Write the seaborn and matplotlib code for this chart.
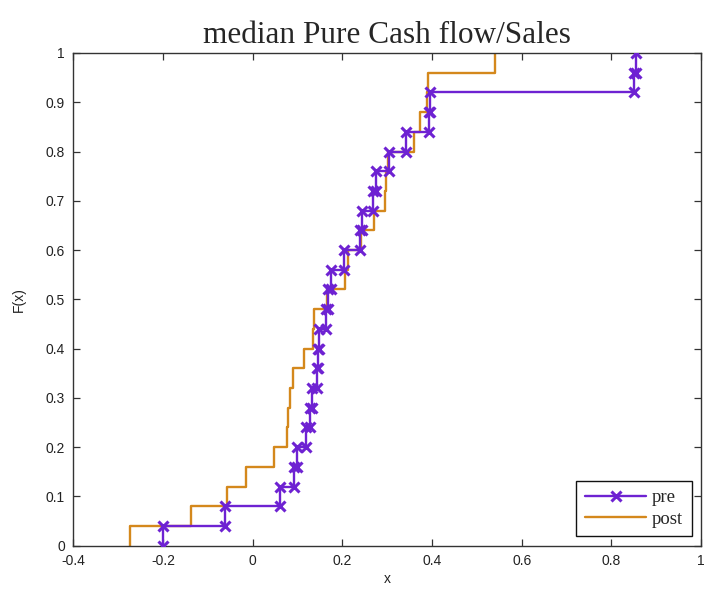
import numpy as np
import pandas as pd
import matplotlib
matplotlib.use("Agg")
import matplotlib.pyplot as plt
import seaborn as sns

# Sorted sample values of median pure cash flow / sales (25 firms each)
pre_values = [-0.200, -0.061, 0.061, 0.093, 0.099, 0.120, 0.127, 0.132, 0.143,
              0.146, 0.147, 0.164, 0.168, 0.175, 0.203, 0.240, 0.244, 0.268,
              0.275, 0.303, 0.341, 0.393, 0.396, 0.850, 0.855]
post_values = [-0.274, -0.137, -0.0575, -0.0145, 0.047, 0.0764, 0.078, 0.084,
               0.090, 0.115, 0.134, 0.136, 0.166, 0.207, 0.212, 0.242, 0.270,
               0.296, 0.297, 0.301, 0.360, 0.3725, 0.389, 0.391, 0.5415]

series_names = ["pre", "post"]
series_colors = {"pre": "#6E22D2", "post": "#D4881C"}

x_ticks = [-0.4, -0.2, 0, 0.2, 0.4, 0.6, 0.8, 1]
x_tick_labels = ["-0.4", "-0.2", "0", "0.2", "0.4", "0.6", "0.8", "1"]
y_ticks = [0, 0.1, 0.2, 0.3, 0.4, 0.5, 0.6, 0.7, 0.8, 0.9, 1]
y_tick_labels = ["0", "0.1", "0.2", "0.3", "0.4", "0.5", "0.6", "0.7", "0.8", "0.9", "1"]


def ecdf_stairs(values):
    """Vertices of the empirical CDF staircase (vertical rise at each sample)."""
    v = np.sort(np.asarray(values, dtype=float))
    n = len(v)
    xs = np.repeat(v, 2)
    lo = np.arange(n) / n
    hi = np.arange(1, n + 1) / n
    ys = np.column_stack([lo, hi]).ravel()
    return pd.DataFrame({"x": xs, "F": ys})


sns.set_style("ticks")
plt.rcParams["font.family"] = ["Liberation Sans", "DejaVu Sans"]

fig = plt.figure(figsize=(7.05, 5.96), dpi=100)
ax = fig.add_axes([0.104, 0.0844, 0.8904, 0.8267])

pre_df = ecdf_stairs(pre_values)
post_df = ecdf_stairs(post_values)

sns.lineplot(data=pre_df, x="x", y="F", sort=False, estimator=None, ax=ax,
             color=series_colors["pre"], linewidth=1.7, marker="x",
             markersize=6.5, markeredgewidth=2.2,
             markeredgecolor=series_colors["pre"], label="pre", zorder=3)
sns.lineplot(data=post_df, x="x", y="F", sort=False, estimator=None, ax=ax,
             color=series_colors["post"], linewidth=1.7, label="post", zorder=2)

ax.set_xlim(-0.4, 1)
ax.set_ylim(0, 1)
ax.set_xticks(x_ticks)
ax.set_xticklabels(x_tick_labels)
ax.set_yticks(y_ticks)
ax.set_yticklabels(y_tick_labels)

for side in ["top", "right", "bottom", "left"]:
    ax.spines[side].set_visible(True)
    ax.spines[side].set_color("#333333")
    ax.spines[side].set_linewidth(1.0)

ax.tick_params(direction="in", length=5, width=0.9, color="#333333",
               top=True, right=True, labelsize=10, labelcolor="#222222", pad=6)

ax.set_xlabel("x", fontsize=10, color="#222222", labelpad=3)
ax.set_ylabel("F(x)", fontsize=10, color="#222222", labelpad=14)
ax.set_title("median Pure Cash flow/Sales", fontsize=22.5,
             family=["Liberation Serif", "DejaVu Serif"], pad=7)

leg = ax.legend(loc="lower right", frameon=True, fancybox=False,
                edgecolor="#111111", framealpha=1, borderaxespad=0.5,
                handlelength=3.3, handletextpad=0.3, borderpad=0.45,
                labelspacing=0.25,
                prop={"family": ["Liberation Serif", "DejaVu Serif"], "size": 13.5})
leg.get_frame().set_linewidth(1.0)

fig.savefig("out.png", dpi=100, facecolor="white")
